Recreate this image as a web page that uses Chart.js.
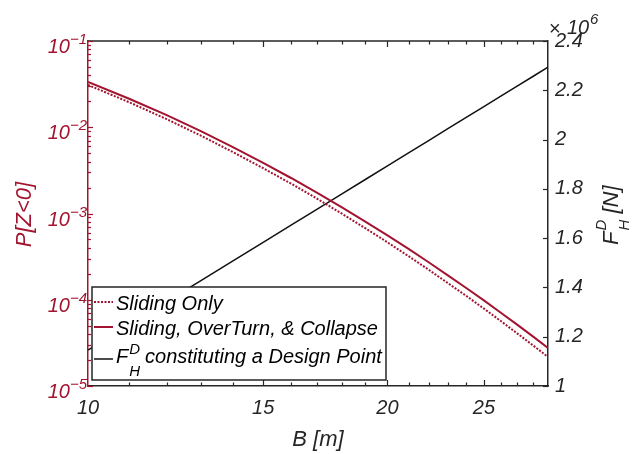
<!DOCTYPE html>
<html><head><meta charset="utf-8">
<script src="https://cdn.jsdelivr.net/npm/chart.js@4/dist/chart.umd.min.js"></script>
<style>html,body{margin:0;padding:0;background:#fff}canvas{display:block}</style>
</head><body>
<canvas id="c" width="632" height="454"></canvas>
<script>
/* P[Z<0] vs B on log-log axes, with the design-point force on a linear right axis. */
const RED = "#A2142F", INK = "#262626";
const FONT = '"Liberation Sans", Arial, Helvetica, sans-serif';

const widthB = [10, 11, 12, 13, 14, 15, 16, 17, 18, 19, 20, 21, 22, 23, 24, 25, 26, 27, 28, 29];
const pSliding = [3.09e-2, 1.95e-2, 1.24e-2, 7.94e-3, 5.12e-3, 3.35e-3, 2.22e-3, 1.48e-3, 9.94e-4, 6.75e-4,
                  4.63e-4, 3.20e-4, 2.23e-4, 1.56e-4, 1.11e-4, 7.90e-5, 5.66e-5, 4.08e-5, 2.97e-5, 2.17e-5];
const pAll = [3.35e-2, 2.14e-2, 1.38e-2, 8.95e-3, 5.84e-3, 3.86e-3, 2.58e-3, 1.73e-3, 1.18e-3, 8.05e-4,
              5.57e-4, 3.88e-4, 2.72e-4, 1.92e-4, 1.37e-4, 9.83e-5, 7.08e-5, 5.14e-5, 3.76e-5, 2.76e-5];
const fDesign = [1.146e6, 1.249e6, 1.343e6, 1.429e6, 1.509e6, 1.583e6, 1.653e6, 1.718e6, 1.780e6, 1.838e6,
                 1.893e6, 1.946e6, 1.996e6, 2.044e6, 2.090e6, 2.134e6, 2.176e6, 2.217e6, 2.256e6, 2.294e6];

const bTicks = [10, 15, 20, 25];
const pExps = [-1, -2, -3, -4, -5];
const fTicks = [1e6, 1.2e6, 1.4e6, 1.6e6, 1.8e6, 2e6, 2.2e6, 2.4e6];

const pts = (ys) => widthB.map((b, i) => ({ x: b, y: ys[i] }));
const font = (size) => "italic " + size + "px " + FONT;

function seg(ctx, x1, y1, x2, y2) {
  ctx.beginPath(); ctx.moveTo(x1, y1); ctx.lineTo(x2, y2); ctx.stroke();
}

// inward ticks, top border, power-of-ten labels, titles, legend
const deco = {
  id: "deco",
  afterDraw(chart) {
    const { ctx, chartArea: a } = chart;
    const { x, y, y2 } = chart.scales;
    ctx.save();

    // top border + x ticks (top and bottom)
    ctx.strokeStyle = INK;
    ctx.lineWidth = 1.5;
    seg(ctx, a.left, a.top, a.right, a.top);
    ctx.lineWidth = 1.2;
    for (let b = 11; b < 29; b++) {
      const px = Math.round(x.getPixelForValue(b)) + 0.5;
      const len = bTicks.includes(b) ? 6 : 3.5;
      seg(ctx, px, a.top, px, a.top + len);
      seg(ctx, px, a.bottom, px, a.bottom - len);
    }
    // right ticks
    fTicks.forEach((v) => {
      const py = Math.round(y2.getPixelForValue(v)) + 0.5;
      seg(ctx, a.right, py, a.right - 5, py);
    });
    // left log ticks
    ctx.strokeStyle = RED;
    for (let k = -5; k <= -1; k++) {
      const base = Math.pow(10, k);
      for (let m = 1; m < 10; m++) {
        const v = m * base;
        if (v > 0.1 + 1e-12) break;
        const py = Math.round(y.getPixelForValue(v)) + 0.5;
        seg(ctx, a.left, py, a.left + (m === 1 ? 5 : 3), py);
      }
    }

    // left labels 10^k
    ctx.fillStyle = RED;
    ctx.textBaseline = "alphabetic";
    pExps.forEach((k) => {
      const py = y.getPixelForValue(Math.pow(10, k));
      const sup = "\u2212" + Math.abs(k);
      ctx.font = font(15);
      const sw = ctx.measureText(sup).width;
      ctx.textAlign = "right";
      ctx.fillText(sup, 87, py + 3);
      ctx.font = font(20);
      ctx.fillText("10", 87 - sw, py + 12);
    });

    // x10^6 multiplier
    ctx.fillStyle = INK;
    ctx.textAlign = "left";
    ctx.font = "20px " + FONT;
    ctx.fillText("\u00d7", 549, 35);
    ctx.font = font(20);
    ctx.fillText("10", 567, 34);
    ctx.font = font(15);
    ctx.fillText("6", 590, 24);

    // x title
    ctx.font = font(22);
    ctx.textAlign = "center";
    ctx.fillText("B [m]", (a.left + a.right) / 2, 446);

    // left title
    ctx.save();
    ctx.fillStyle = RED;
    ctx.translate(31, (a.top + a.bottom) / 2 + 1);
    ctx.rotate(-Math.PI / 2);
    ctx.textAlign = "center";
    ctx.font = font(22);
    ctx.fillText("P[Z<0]", 0, 0);
    ctx.restore();

    // right title F_H^D [N]
    ctx.save();
    ctx.fillStyle = INK;
    ctx.translate(618, 245);
    ctx.rotate(-Math.PI / 2);
    ctx.textAlign = "left";
    ctx.font = font(22);
    ctx.fillText("F", 0, 0);
    let w = ctx.measureText("F").width + 1;
    ctx.font = font(15);
    ctx.fillText("D", w, -12);
    ctx.fillText("H", w, 11);
    w += ctx.measureText("D").width;
    ctx.font = font(22);
    ctx.fillText(" [N]", w, 0);
    ctx.restore();

    // legend
    const L = { l: 92, t: 287, r: 386, b: 380 };
    ctx.fillStyle = "#fff";
    ctx.fillRect(L.l, L.t, L.r - L.l, L.b - L.t);
    ctx.strokeStyle = INK;
    ctx.lineWidth = 1.5;
    ctx.strokeRect(L.l, L.t, L.r - L.l, L.b - L.t);
    const rows = [
      { ds: 0, ly: 302, base: 310 },
      { ds: 1, ly: 327, base: 335 },
      { ds: 2, ly: 359, base: 363 },
    ];
    rows.forEach((r) => {
      const d = chart.data.datasets[r.ds];
      ctx.save();
      ctx.strokeStyle = d.borderColor;
      ctx.lineWidth = d.borderWidth;
      ctx.setLineDash(d.borderDash || []);
      seg(ctx, 94, r.ly, 113, r.ly);
      ctx.restore();
    });
    ctx.fillStyle = "#000";
    ctx.textAlign = "left";
    ctx.font = font(20);
    ctx.fillText(chart.data.datasets[0].label, 116, rows[0].base);
    ctx.fillText(chart.data.datasets[1].label, 116, rows[1].base);
    ctx.fillText("F", 116, rows[2].base);
    let lw = 116 + ctx.measureText("F").width + 1;
    ctx.font = font(15);
    ctx.fillText("D", lw, rows[2].base - 9);
    ctx.fillText("H", lw, rows[2].base + 13);
    lw += ctx.measureText("D").width + 5;
    ctx.font = font(20);
    ctx.fillText("constituting a Design Point", lw, rows[2].base);

    ctx.restore();
  },
};

new Chart(document.getElementById("c"), {
  type: "line",
  data: {
    datasets: [
      { label: "Sliding Only", data: pts(pSliding), yAxisID: "y", borderColor: RED, borderWidth: 2,
        borderDash: [2, 1.5], pointRadius: 0, fill: false, tension: 0 },
      { label: "Sliding, OverTurn, & Collapse", data: pts(pAll), yAxisID: "y", borderColor: RED, borderWidth: 2,
        pointRadius: 0, fill: false, tension: 0 },
      { label: "F constituting a Design Point", data: pts(fDesign), yAxisID: "y2", borderColor: "#111", borderWidth: 1.5,
        pointRadius: 0, fill: false, tension: 0 },
    ],
  },
  options: {
    responsive: false, animation: false, devicePixelRatio: 1,
    layout: { padding: { top: 41, left: 0, right: 0, bottom: 0 } },
    plugins: { legend: { display: false }, tooltip: { enabled: false } },
    scales: {
      x: {
        type: "logarithmic", min: 10, max: 29, position: "bottom",
        afterFit: (s) => { s.height = 68; },
        afterBuildTicks: (s) => { s.ticks = bTicks.map((v) => ({ value: v })); },
        grid: { display: false, drawTicks: false },
        border: { display: true, color: INK, width: 1.5 },
        ticks: { color: INK, font: { family: FONT, size: 20, style: "italic" }, padding: 10,
                 autoSkip: false, maxRotation: 0, callback: (v) => String(v) },
      },
      y: {
        type: "logarithmic", min: 1e-5, max: 1e-1, position: "left",
        afterFit: (s) => { s.width = 88; },
        grid: { display: false, drawTicks: false },
        border: { display: true, color: RED, width: 1.5 },
        ticks: { display: false },
      },
      y2: {
        type: "linear", min: 1e6, max: 2.4e6, position: "right",
        afterFit: (s) => { s.width = 84; },
        afterBuildTicks: (s) => { s.ticks = fTicks.map((v) => ({ value: v })); },
        grid: { display: false, drawTicks: false },
        border: { display: true, color: INK, width: 1.5 },
        ticks: { color: INK, font: { family: FONT, size: 20, style: "italic" }, padding: 7,
                 callback: (v) => String(+(v / 1e6).toFixed(1)) },
      },
    },
  },
  plugins: [deco],
});
</script>
</body></html>
